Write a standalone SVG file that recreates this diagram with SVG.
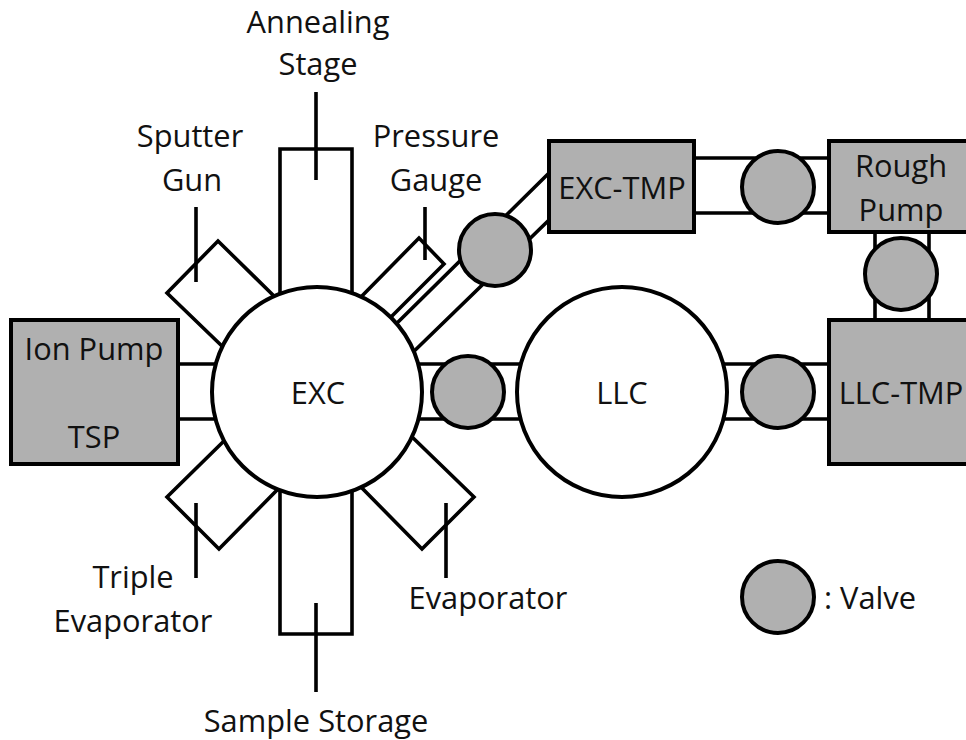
<svg xmlns="http://www.w3.org/2000/svg" width="966" height="740" viewBox="0 0 966 740">
<style>
.l{stroke:#000;stroke-width:3.6;fill:none}
.s{fill:#fff;stroke:#000;stroke-width:3.6;stroke-linejoin:miter}
.b{fill:#b0b0b0;stroke:#000;stroke-width:4}
.v{fill:#b0b0b0;stroke:#000;stroke-width:4}
.c{fill:#fff;stroke:#000;stroke-width:4}
.t{font-family:"Open Sans","Liberation Sans",sans-serif;font-size:30.8px;fill:#111;text-anchor:middle}
</style>
<rect width="966" height="740" fill="#fff"/>
<g id="connectors">
<path class="l" d="M178 364H225M178 419H225M410 364H525M410 419H525M720 364H829M720 419H829M694 158H829M694 213H829M875 232V320M929 232V320"/>
<path class="l" d="M390 330L549 173M405 360L549 220"/>
</g>
<g id="annealing-stage"><path class="s" d="M280 300V149H352V300"/></g>
<g id="sample-storage"><path class="s" d="M280 485V634H352V485"/></g>
<g id="sputter-gun"><path class="s" d="M277 299L218 241L167 293L224 348"/></g>
<g id="pressure-gauge"><path class="s" d="M359 299L419 238L444 264L389 319"/></g>
<g id="triple-evaporator"><path class="s" d="M227 438L167 497L219 549L281 486"/></g>
<g id="evaporator"><path class="s" d="M409 434L474 497L422 549L358 484"/></g>
<g id="exc"><circle class="c" cx="317" cy="392" r="105"/><text class="t" x="318" y="404">EXC</text></g>
<g id="llc"><circle class="c" cx="622" cy="392" r="105"/><text class="t" x="622" y="404">LLC</text></g>
<g id="ion-pump"><rect class="b" x="11" y="320" width="167" height="144"/><text class="t" x="94" y="360">Ion Pump</text><text class="t" x="94" y="448">TSP</text></g>
<g id="exc-tmp"><rect class="b" x="549" y="141" width="145" height="91"/><text class="t" x="622" y="199">EXC-TMP</text></g>
<g id="rough-pump"><rect class="b" x="829" y="141" width="145" height="91"/><text class="t" x="901" y="177">Rough</text><text class="t" x="901" y="221">Pump</text></g>
<g id="llc-tmp"><rect class="b" x="829" y="320" width="145" height="144"/><text class="t" x="901" y="404">LLC-TMP</text></g>
<g id="valves">
<circle class="v" cx="495" cy="250" r="36"/>
<circle class="v" cx="778" cy="187" r="36"/>
<circle class="v" cx="901" cy="274" r="36"/>
<circle class="v" cx="468" cy="392" r="36"/>
<circle class="v" cx="778" cy="392" r="36"/>
<circle class="v" cx="778" cy="597" r="36"/>
</g>
<g id="leaders">
<path class="l" d="M316 92V180M196 207V282M425 207V260M196 503V578M446 503V578M316 603V692"/>
</g>
<g id="labels">
<text class="t" x="318" y="33">Annealing</text><text class="t" x="318" y="75">Stage</text>
<text class="t" x="190" y="147">Sputter</text><text class="t" x="192" y="191">Gun</text>
<text class="t" x="436" y="147">Pressure</text><text class="t" x="436" y="191">Gauge</text>
<text class="t" x="133" y="588">Triple</text><text class="t" x="133" y="632">Evaporator</text>
<text class="t" x="488" y="609">Evaporator</text>
<text class="t" x="316" y="732">Sample Storage</text>
<text class="t" x="870" y="609">: Valve</text>
</g>
</svg>
